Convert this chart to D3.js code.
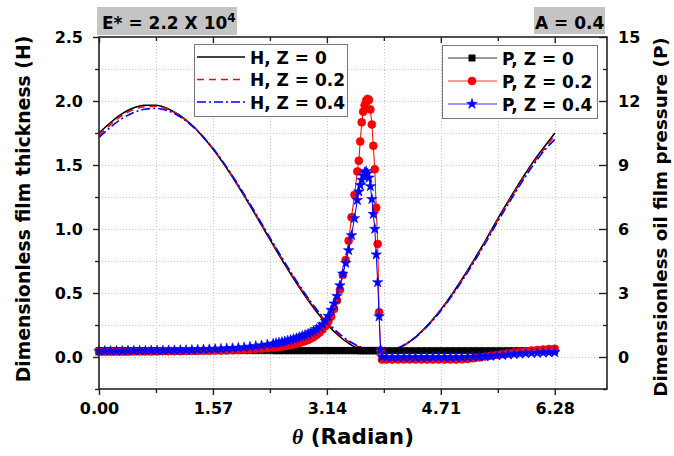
<!DOCTYPE html>
<html><head><meta charset="utf-8">
<script src="https://cdn.jsdelivr.net/npm/d3@7"></script>
<style>
html,body{margin:0;padding:0;background:#fff;}
svg{display:block;}
text{font-family:"DejaVu Sans",sans-serif;font-weight:bold;fill:#000;}
</style></head><body>
<svg id="c" width="674" height="456"></svg>
<script>
// ---------- data ----------
const thetaH = [0.000,0.157,0.314,0.471,0.628,0.785,0.942,1.100,1.257,1.414,1.571,1.728,1.885,2.042,2.199,2.356,2.513,2.670,2.827,2.985,3.142,3.299,3.456,3.613,3.770,3.927,4.084,4.241,4.398,4.555,4.712,4.869,5.027,5.184,5.341,5.498,5.655,5.812,5.969,6.126,6.283];
const H_Z0  = [1.750,1.830,1.899,1.945,1.967,1.967,1.942,1.893,1.823,1.733,1.625,1.501,1.365,1.220,1.070,0.917,0.767,0.623,0.488,0.364,0.257,0.168,0.101,0.055,0.035,0.035,0.057,0.105,0.174,0.265,0.372,0.495,0.631,0.775,0.925,1.083,1.233,1.378,1.513,1.634,1.750];
const H_Z02 = [1.730,1.815,1.885,1.932,1.955,1.958,1.937,1.890,1.822,1.734,1.628,1.505,1.370,1.226,1.077,0.925,0.776,0.632,0.498,0.375,0.268,0.180,0.114,0.070,0.048,0.045,0.060,0.105,0.172,0.262,0.367,0.489,0.624,0.767,0.916,1.073,1.222,1.366,1.500,1.620,1.730];
const H_Z04 = [1.715,1.795,1.862,1.908,1.935,1.942,1.925,1.882,1.818,1.733,1.630,1.509,1.375,1.232,1.083,0.932,0.783,0.639,0.505,0.382,0.276,0.188,0.121,0.076,0.052,0.047,0.062,0.106,0.171,0.259,0.362,0.482,0.616,0.758,0.906,1.062,1.210,1.353,1.487,1.606,1.700];

const thetaP = [0.00,0.08,0.16,0.24,0.32,0.40,0.48,0.56,0.64,0.72,0.80,0.88,0.96,1.04,1.12,1.20,1.28,1.36,1.44,1.52,1.60,1.68,1.76,1.84,1.92,2.00,2.08,2.16,2.24,2.32,2.40,
  2.44,2.48,2.52,2.56,2.60,2.64,2.68,2.72,2.76,2.80,2.84,2.88,2.92,2.96,3.00,3.04,3.08,3.12,3.16,3.20,
  3.24,3.28,3.32,3.36,3.40,3.44,3.48,3.52,3.56,
  3.58,3.60,3.62,3.64,3.66,3.68,3.70,3.72,3.74,3.76,3.78,3.80,3.82,3.84,3.86,3.88,3.90,
  3.96,4.04,4.12,4.20,4.28,4.36,4.44,4.52,4.60,4.68,4.76,4.84,4.92,5.00,5.08,5.16,5.24,5.32,5.40,5.48,5.56,5.64,5.72,5.80,5.88,5.96,6.04,6.12,6.20,6.28];
const P_Z0 = [0.30,0.30,0.30,0.30,0.30,0.30,0.30,0.30,0.30,0.30,0.30,0.30,0.30,0.30,0.30,0.30,0.30,0.30,0.30,0.30,0.30,0.30,0.30,0.30,0.30,0.30,0.30,0.30,0.30,0.30,0.30,
  0.30,0.30,0.30,0.30,0.30,0.30,0.30,0.30,0.30,0.30,0.30,0.30,0.30,0.30,0.30,0.30,0.30,0.30,0.30,0.30,
  0.30,0.30,0.30,0.30,0.30,0.30,0.30,0.30,0.30,
  0.30,0.30,0.30,0.30,0.30,0.30,0.30,0.30,0.30,0.30,0.30,0.30,0.30,0.30,0.30,0.30,0.30,
  0.30,0.30,0.30,0.30,0.30,0.30,0.30,0.30,0.30,0.30,0.30,0.30,0.30,0.30,0.30,0.30,0.30,0.30,0.30,0.30,0.30,0.30,0.30,0.30,0.30,0.30,0.30,0.30,0.30,0.30];
const P_Z02 = [0.25,0.25,0.25,0.25,0.25,0.25,0.26,0.26,0.26,0.26,0.26,0.27,0.27,0.27,0.27,0.28,0.28,0.28,0.29,0.29,0.30,0.30,0.31,0.32,0.33,0.34,0.35,0.37,0.39,0.41,0.44,
  0.455,0.47,0.49,0.51,0.535,0.56,0.59,0.62,0.66,0.70,0.75,0.80,0.87,0.94,1.04,1.15,1.29,1.45,1.66,1.90,
  2.25,2.65,3.15,3.85,4.55,5.45,6.55,7.60,8.70,
  9.20,10.1,11.0,11.5,11.8,12.0,12.1,12.05,11.6,10.9,9.90,8.80,7.00,5.30,2.10,0.30,-0.12,
  -0.12,-0.12,-0.12,-0.12,-0.12,-0.12,-0.12,-0.12,-0.12,-0.12,-0.12,-0.12,-0.12,-0.11,-0.09,-0.06,-0.02,0.02,0.06,0.10,0.14,0.18,0.21,0.24,0.27,0.30,0.33,0.35,0.37,0.39];
const P_Z04 = [0.28,0.28,0.28,0.28,0.28,0.29,0.29,0.29,0.29,0.30,0.30,0.30,0.31,0.31,0.32,0.32,0.33,0.34,0.35,0.36,0.37,0.38,0.40,0.41,0.43,0.45,0.48,0.51,0.54,0.58,0.62,
  0.645,0.67,0.70,0.73,0.765,0.80,0.84,0.88,0.93,0.98,1.03,1.08,1.15,1.22,1.30,1.40,1.53,1.68,1.92,2.20,
  2.50,2.85,3.35,3.90,4.40,5.00,5.70,6.50,7.35,
  7.75,8.05,8.30,8.50,8.65,8.70,8.60,8.40,8.00,7.40,6.70,6.00,4.80,3.50,1.90,0.35,0.00,
  -0.02,-0.02,-0.02,-0.02,-0.02,-0.02,-0.02,-0.02,-0.02,-0.02,-0.02,-0.02,-0.02,-0.02,-0.01,0.00,0.01,0.03,0.05,0.07,0.09,0.11,0.13,0.15,0.17,0.18,0.19,0.20,0.21,0.22];

const xTicks = [0, 1.57, 3.14, 4.71, 6.28];
const xTickLabels = ["0.00","1.57","3.14","4.71","6.28"];
const xMinor = [0.785, 2.355, 3.925, 5.495];
const hTicks = [0, 0.5, 1.0, 1.5, 2.0, 2.5];
const hMinor = [-0.25, 0.25, 0.75, 1.25, 1.75, 2.25];
const pTicks = [0, 3, 6, 9, 12, 15];
const pMinor = [-1.5, 1.5, 4.5, 7.5, 10.5, 13.5];
const hLegend = ["H, Z = 0", "H, Z = 0.2", "H, Z = 0.4"];
const pLegend = ["P, Z = 0", "P, Z = 0.2", "P, Z = 0.4"];

// ---------- layout ----------
const X0 = 99, X1 = 607, Y0 = 37, Y1 = 389;
const svg = d3.select("#c");
const x = d3.scaleLinear().domain([0, 7]).range([X0, X1]);
const yH = d3.scaleLinear().domain([-0.25, 2.5]).range([Y1, Y0]);
const yP = d3.scaleLinear().domain([-1.5, 15]).range([Y1, Y0]);

// grid
const grid = svg.append("g").attr("stroke", "#c8c8c8").attr("stroke-width", 1).attr("stroke-dasharray", "1,2");
xTicks.concat(xMinor).filter(d => d > 0).forEach(d => {
  grid.append("line").attr("x1", Math.round(x(d)) + 0.5).attr("x2", Math.round(x(d)) + 0.5).attr("y1", Y0).attr("y2", Y1);
});
hTicks.concat(hMinor).filter(d => d > -0.25 && d < 2.5).forEach(d => {
  grid.append("line").attr("y1", Math.round(yH(d)) + 0.5).attr("y2", Math.round(yH(d)) + 0.5).attr("x1", X0).attr("x2", X1);
});

// H curves
const hSeries = [
  {v: H_Z0, color: "#000", dash: null},
  {v: H_Z02, color: "#ff0000", dash: "7,5"},
  {v: H_Z04, color: "#0000ff", dash: "9,3,2,3"}
];
const hLine = v => d3.line().x((d, i) => x(thetaH[i])).y(d => yH(d)).curve(d3.curveMonotoneX)(v);
hSeries.forEach(s => {
  svg.append("path").attr("d", hLine(s.v)).attr("fill", "none").attr("stroke", s.color)
    .attr("stroke-width", 1.6).attr("stroke-dasharray", s.dash);
});

// P curves
const pSeries = [
  {v: P_Z0, color: "#000", sym: d3.symbolSquare, size: 40},
  {v: P_Z02, color: "#ff0000", sym: d3.symbolCircle, size: 50},
  {v: P_Z04, color: "#0000ff", sym: d3.symbolStar, size: 34}
];
const pLine = v => d3.line().x((d, i) => x(thetaP[i])).y(d => yP(d))(v);
pSeries.forEach(s => {
  svg.append("path").attr("d", pLine(s.v)).attr("fill", "none").attr("stroke", s.color).attr("stroke-width", 1);
  svg.append("g").selectAll("path").data(s.v).join("path")
    .attr("transform", (d, i) => `translate(${x(thetaP[i])},${yP(d)})`)
    .attr("d", d3.symbol().type(s.sym).size(s.size)())
    .attr("fill", s.color).attr("stroke", s.color).attr("stroke-width", 0.6);
});

// frame
svg.append("rect").attr("x", X0).attr("y", Y0).attr("width", X1 - X0).attr("height", Y1 - Y0)
  .attr("fill", "none").attr("stroke", "#222").attr("stroke-width", 1.6);

function styleAxis(g, fs) {
  g.select(".domain").remove();
  g.selectAll("line").attr("stroke", "#222").attr("stroke-width", 1.4);
  g.attr("font-family", null).attr("font-size", null);
  g.selectAll("text").style("font-size", fs + "px");
}
// bottom
const gb = svg.append("g").attr("transform", `translate(0,${Y1})`)
  .call(d3.axisBottom(x).tickValues(xTicks).tickFormat((d, i) => xTickLabels[i]).tickSize(6).tickPadding(8));
styleAxis(gb, 16);
const gbm = svg.append("g").attr("transform", `translate(0,${Y1})`)
  .call(d3.axisBottom(x).tickValues(xMinor).tickFormat("").tickSize(4));
styleAxis(gbm, 16);
// top
const gt = svg.append("g").attr("transform", `translate(0,${Y0})`)
  .call(d3.axisTop(x).tickValues(xTicks).tickFormat("").tickSizeInner(-6).tickSizeOuter(0));
styleAxis(gt, 16);
const gtm = svg.append("g").attr("transform", `translate(0,${Y0})`)
  .call(d3.axisTop(x).tickValues(xMinor).tickFormat("").tickSizeInner(-4).tickSizeOuter(0));
styleAxis(gtm, 16);
// left
const gl = svg.append("g").attr("transform", `translate(${X0},0)`)
  .call(d3.axisLeft(yH).tickValues(hTicks).tickFormat(d3.format(".1f")).tickSize(6).tickPadding(10));
styleAxis(gl, 16);
gl.selectAll("text").attr("dy", "0.36em");
const glm = svg.append("g").attr("transform", `translate(${X0},0)`)
  .call(d3.axisLeft(yH).tickValues(hMinor).tickFormat("").tickSize(4));
styleAxis(glm, 16);
// right
const gr = svg.append("g").attr("transform", `translate(${X1},0)`)
  .call(d3.axisRight(yP).tickValues(pTicks).tickFormat(d3.format("d")).tickSizeInner(-8).tickSizeOuter(0).tickPadding(11));
styleAxis(gr, 16);
gr.selectAll("text").attr("dy", "0.36em");
const grm = svg.append("g").attr("transform", `translate(${X1},0)`)
  .call(d3.axisRight(yP).tickValues(pMinor).tickFormat("").tickSizeInner(-4).tickSizeOuter(0));
styleAxis(grm, 16);

// axis titles
svg.append("text").attr("transform", "translate(30,209) rotate(-90)").attr("text-anchor", "middle")
  .style("font-size", "18.8px").text("Dimensionless film thickness (H)");
svg.append("text").attr("transform", "translate(667,217) rotate(-90)").attr("text-anchor", "middle")
  .style("font-size", "18.3px").text("Dimensionless oil film pressure (P)");
const xt = svg.append("text").attr("x", 353).attr("y", 444).attr("text-anchor", "middle").style("font-size", "21.5px");
xt.append("tspan").style("font-family", "'Liberation Serif',serif").style("font-style", "italic").text("θ");
xt.append("tspan").text(" (Radian)");

// labels in grey boxes
svg.append("rect").attr("x", 97).attr("y", 7).attr("width", 140).attr("height", 28).attr("fill", "#c4c4c4");
const et = svg.append("text").attr("x", 102).attr("y", 29).style("font-size", "17px");
et.append("tspan").text("E* = 2.2 X 10");
et.append("tspan").attr("dy", -7).style("font-size", "12px").text("4");
svg.append("rect").attr("x", 534).attr("y", 7).attr("width", 71).attr("height", 27).attr("fill", "#c4c4c4");
svg.append("text").attr("x", 535).attr("y", 29).style("font-size", "17px").text("A = 0.4");

// H legend
svg.append("rect").attr("x", 194.5).attr("y", 44.5).attr("width", 153).attr("height", 72)
  .attr("fill", "#fff").attr("stroke", "#777").attr("stroke-width", 1);
const hRows = [57, 79.5, 102];
hSeries.forEach((s, i) => {
  svg.append("line").attr("x1", 197).attr("x2", 245).attr("y1", hRows[i]).attr("y2", hRows[i])
    .attr("stroke", s.color).attr("stroke-width", 1.6).attr("stroke-dasharray", s.dash);
  svg.append("text").attr("x", 250).attr("y", hRows[i] + 6.5).style("font-size", "17px").text(hLegend[i]);
});
// P legend
svg.append("rect").attr("x", 442.5).attr("y", 45.5).attr("width", 155).attr("height", 73)
  .attr("fill", "#fff").attr("stroke", "#777").attr("stroke-width", 1);
const pRows = [58, 81, 104];
pSeries.forEach((s, i) => {
  svg.append("line").attr("x1", 448).attr("x2", 497).attr("y1", pRows[i]).attr("y2", pRows[i])
    .attr("stroke", s.color).attr("stroke-width", 1).attr("stroke-opacity", 0.8);
  svg.append("path").attr("transform", `translate(472,${pRows[i]})`)
    .attr("d", d3.symbol().type(s.sym).size(s.size)()).attr("fill", s.color).attr("stroke", s.color).attr("stroke-width", 0.6);
  svg.append("text").attr("x", 502).attr("y", pRows[i] + 6.5).style("font-size", "17px").text(pLegend[i]);
});
</script>
</body></html>
